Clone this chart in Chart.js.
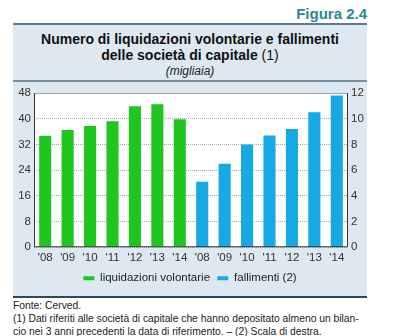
<!DOCTYPE html>
<html>
<head>
<meta charset="utf-8">
<script src="https://cdn.jsdelivr.net/npm/chart.js@4.4.1/dist/chart.umd.min.js"></script>
<style>
  body { margin: 0; width: 402px; height: 336px; background: #fff; font-family: "Liberation Sans", Arial, sans-serif; position: relative; overflow: hidden; }
  #fig { position: absolute; right: 35px; top: 5px; font-size: 15px; font-weight: bold; color: #2b8796; }
  #panel { position: absolute; left: 13px; top: 23px; width: 354px; height: 271px; background: #dde8f0; border-top: 2px solid #5b7d8f; border-bottom: 2px solid #2f4757; }
  #title { position: absolute; left: 0; top: 6px; width: 354px; text-align: center; color: #111; }
  #title .t { font-size: 14px; font-weight: bold; line-height: 16px; }
  #title .t span { font-weight: normal; }
  #title .u { font-size: 12px; font-style: italic; line-height: 16px; color: #222; }
  #sep { position: absolute; left: 0; top: 55px; width: 354px; height: 2px; background: #7891a0; }
  #wrap { position: absolute; left: 13px; top: 82px; width: 354px; height: 212px; }
  #foot { position: absolute; left: 13px; top: 299px; font-size: 10.3px; line-height: 13px; color: #222; }
</style>
</head>
<body>
<div id="fig">Figura 2.4</div>
<div id="panel">
  <div id="title">
    <div class="t">Numero di liquidazioni volontarie e fallimenti</div>
    <div class="t">delle società di capitale <span>(1)</span></div>
    <div class="u">(migliaia)</div>
  </div>
  <div id="sep"></div>
</div>
<div id="wrap"><canvas id="chart"></canvas></div>
<div id="foot">Fonte: Cerved.<br>(1) Dati riferiti alle società di capitale che hanno depositato almeno un bilan-<br>cio nei 3 anni precedenti la data di riferimento. – (2) Scala di destra.</div>
<script>
const years = ["'08", "'09", "'10", "'11", "'12", "'13", "'14"];
const liquidazioni = [34.7, 36.5, 37.7, 39.2, 43.9, 44.5, 39.8];
const fallimenti = [5.1, 6.5, 8.0, 8.7, 9.2, 10.5, 11.8];

const labels = years.concat(years);
const empty = years.map(() => null);

// sfondo bianco e bordo dell'area del grafico
const plotBox = {
  id: "plotBox",
  beforeDraw(chart) {
    const { ctx, chartArea: a } = chart;
    ctx.save();
    ctx.fillStyle = "#fff";
    ctx.fillRect(a.left, a.top, a.right - a.left, a.bottom - a.top);
    ctx.restore();
  },
  afterDatasetsDraw(chart) {
    const { ctx, chartArea: a } = chart;
    ctx.save();
    ctx.strokeStyle = "#9aa3a8";
    ctx.lineWidth = 1;
    ctx.beginPath();
    ctx.moveTo(a.left, a.top + 0.5);
    ctx.lineTo(a.right, a.top + 0.5);
    ctx.stroke();
    ctx.strokeStyle = "#333";
    ctx.beginPath();
    ctx.moveTo(a.left + 0.5, a.top);
    ctx.lineTo(a.left + 0.5, a.bottom - 0.5);
    ctx.lineTo(a.right - 0.5, a.bottom - 0.5);
    ctx.lineTo(a.right - 0.5, a.top);
    ctx.stroke();
    ctx.restore();
  },
};

const tickFont = { family: "Liberation Sans", size: 11.5 };

new Chart(document.getElementById("chart"), {
  type: "bar",
  data: {
    labels: labels,
    datasets: [
      {
        label: "liquidazioni volontarie",
        data: liquidazioni.concat(empty),
        backgroundColor: "#1fc61f",
        yAxisID: "y",
      },
      {
        label: "fallimenti (2)",
        data: empty.concat(fallimenti),
        backgroundColor: "#16a9e4",
        yAxisID: "y2",
      },
    ],
  },
  options: {
    responsive: true,
    maintainAspectRatio: false,
    animation: false,
    layout: { padding: { top: 11, left: 0, right: 0, bottom: 0 } },
    datasets: { bar: { grouped: false, barPercentage: 0.54, categoryPercentage: 1 } },
    plugins: {
      legend: {
        position: "bottom",
        labels: {
          boxWidth: 11,
          boxHeight: 4,
          padding: 7.25,
          color: "#222",
          font: tickFont,
        },
      },
      tooltip: { enabled: false },
    },
    scales: {
      x: {
        grid: { display: false, drawTicks: false },
        border: { display: false },
        ticks: { color: "#333", padding: 4, maxRotation: 0, autoSkip: false, font: tickFont },
        afterFit(scale) { scale.height = 18; },
      },
      y: {
        position: "left",
        min: 0,
        max: 48,
        ticks: { stepSize: 8, color: "#333", padding: 3, font: tickFont },
        grid: { color: "#a8a8a8", drawTicks: false },
        border: { display: false, dash: [1, 1] },
        afterFit(scale) { scale.width = 21; },
      },
      y2: {
        position: "right",
        min: 0,
        max: 12,
        ticks: { stepSize: 2, color: "#333", padding: 3, font: tickFont },
        grid: { display: false, drawTicks: false },
        border: { display: false },
        afterFit(scale) { scale.width = 19; },
      },
    },
  },
  plugins: [plotBox],
});
</script>
</body>
</html>
